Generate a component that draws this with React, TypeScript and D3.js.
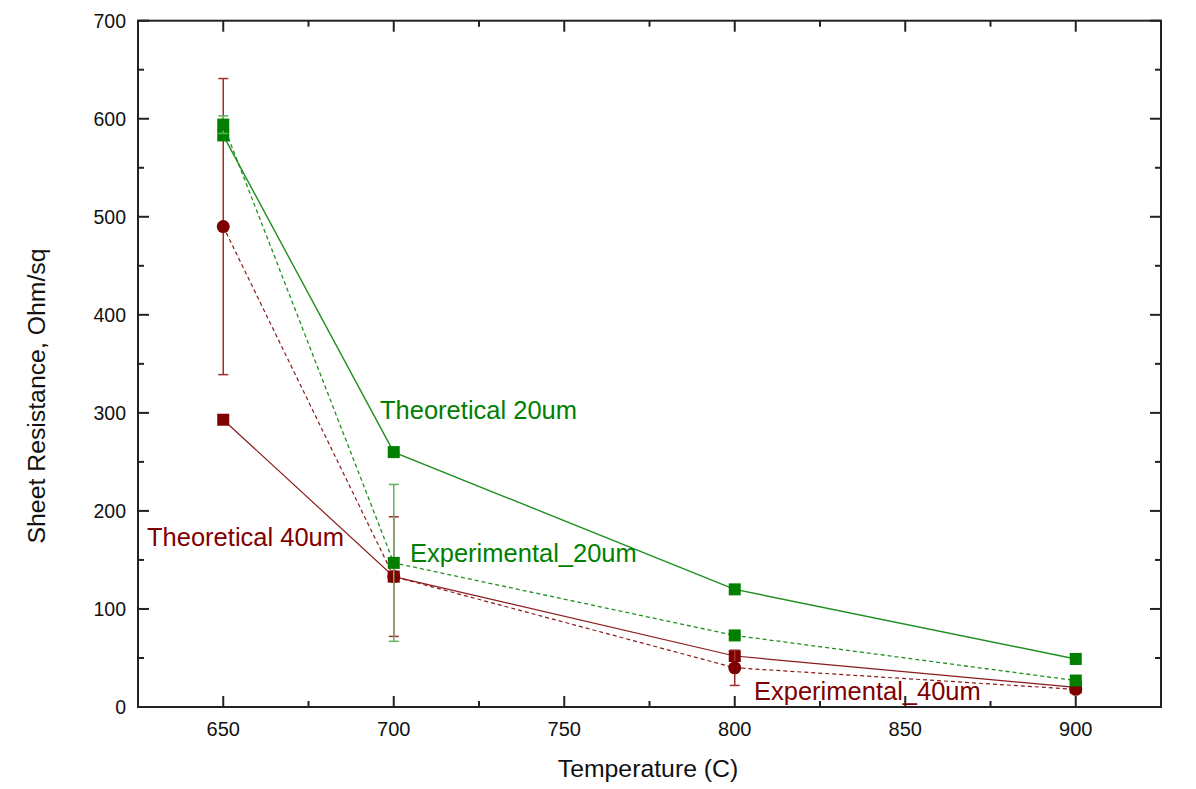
import React from "react";
import * as d3 from "d3";

const temperatures = [650, 700, 800, 900];

const theoretical20 = [583, 260, 120, 49];
const experimental20 = [594, 147, 73, 27];
const experimental20Err = [9, 80, 0, 0];

const theoretical40 = [293, 133, 52, 20];
const experimental40 = [490, 133, 40, 18];
const experimental40Err = [151, 61, 18, 0];

const xTicks = [650, 700, 750, 800, 850, 900];
const yTicks = [0, 100, 200, 300, 400, 500, 600, 700];

const W = 1196;
const H = 789;
const plot = { left: 138, right: 1161, top: 20.7, bottom: 707 };

const GREEN = "#007f00";
const GREEN_LINE = "#1f8f1f";
const GREEN_ERR = "#5fb35f";
const RED = "#7f0000";
const RED_LINE = "#8b1a1a";
const FONT = "Liberation Sans, Arial, sans-serif";

type Series = {
  name: string;
  values: number[];
  err?: number[];
  color: string;
  lineColor: string;
  errColor?: string;
  dashed: boolean;
  marker: "square" | "circle";
  lineWidth: number;
};

// red series first so the green ones sit on top where they overlap
const series: Series[] = [
  { name: "Theoretical 40um", values: theoretical40, color: RED, lineColor: RED_LINE, dashed: false, marker: "square", lineWidth: 1.2 },
  { name: "Experimental_40um", values: experimental40, err: experimental40Err, color: RED, lineColor: RED_LINE, errColor: "#9b3030", dashed: true, marker: "circle", lineWidth: 1.2 },
  { name: "Theoretical 20um", values: theoretical20, color: GREEN, lineColor: GREEN_LINE, dashed: false, marker: "square", lineWidth: 1.4 },
  { name: "Experimental_20um", values: experimental20, err: experimental20Err, color: GREEN, lineColor: GREEN_LINE, errColor: GREEN_ERR, dashed: true, marker: "square", lineWidth: 1.3 },
];

export default function App() {
  const x = d3.scaleLinear().domain([625, 925]).range([plot.left, plot.right]);
  const y = d3.scaleLinear().domain([0, 700]).range([plot.bottom, plot.top]);

  const line = d3
    .line<number>()
    .x((_, i) => x(temperatures[i]))
    .y((v) => y(v));

  const minorX = d3.range(625, 926, 25).filter((t) => t % 50 !== 0);
  const minorY = d3.range(50, 700, 100);

  const axisColor = "#222";
  const majorLen = 11;
  const minorLen = 6;
  const labelSize = 25.5;

  return (
    <svg
      width={W}
      height={H}
      style={{ position: "absolute", left: 0, top: 0, background: "#fff" }}
      fontFamily={FONT}
    >
      {/* connecting lines */}
      {series.map((s) => (
        <path
          key={s.name + "-line"}
          d={line(s.values) || ""}
          fill="none"
          stroke={s.lineColor}
          strokeWidth={s.lineWidth}
          strokeDasharray={s.dashed ? "4 3" : undefined}
        />
      ))}

      {/* error bars and markers, one series at a time */}
      {series.map((s) => (
        <g key={s.name + "-marks"}>
          {s.err
            ? s.values.map((v, i) => {
                const e = s.err![i];
                if (!e) return null;
                const cx = x(temperatures[i]);
                const y1 = y(v + e);
                const y2 = y(v - e);
                return (
                  <g key={"err-" + i} stroke={s.errColor} strokeWidth={1.5}>
                    <line x1={cx} x2={cx} y1={y1} y2={y2} />
                    <line x1={cx - 5} x2={cx + 5} y1={y1} y2={y1} />
                    <line x1={cx - 5} x2={cx + 5} y1={y2} y2={y2} />
                  </g>
                );
              })
            : null}
          {s.values.map((v, i) => {
            const cx = x(temperatures[i]);
            const cy = y(v);
            return s.marker === "square" ? (
              <rect key={"m-" + i} x={cx - 6} y={cy - 6} width={12} height={12} fill={s.color} />
            ) : (
              <circle key={"m-" + i} cx={cx} cy={cy} r={6.5} fill={s.color} />
            );
          })}
        </g>
      ))}

      {/* frame */}
      <rect
        x={plot.left}
        y={plot.top}
        width={plot.right - plot.left}
        height={plot.bottom - plot.top}
        fill="none"
        stroke={axisColor}
        strokeWidth={2}
      />

      {/* x ticks (bottom and top, inward) */}
      {xTicks.map((t) => (
        <g key={"xt" + t} stroke={axisColor} strokeWidth={2}>
          <line x1={x(t)} x2={x(t)} y1={plot.bottom} y2={plot.bottom - majorLen} />
          <line x1={x(t)} x2={x(t)} y1={plot.top} y2={plot.top + majorLen} />
        </g>
      ))}
      {minorX.map((t) => (
        <g key={"xm" + t} stroke={axisColor} strokeWidth={2}>
          <line x1={x(t)} x2={x(t)} y1={plot.bottom} y2={plot.bottom - minorLen} />
          <line x1={x(t)} x2={x(t)} y1={plot.top} y2={plot.top + minorLen} />
        </g>
      ))}

      {/* y ticks (left and right, inward) */}
      {yTicks.map((t) => (
        <g key={"yt" + t} stroke={axisColor} strokeWidth={2}>
          <line x1={plot.left} x2={plot.left + majorLen} y1={y(t)} y2={y(t)} />
          <line x1={plot.right} x2={plot.right - majorLen} y1={y(t)} y2={y(t)} />
        </g>
      ))}
      {minorY.map((t) => (
        <g key={"ym" + t} stroke={axisColor} strokeWidth={2}>
          <line x1={plot.left} x2={plot.left + minorLen} y1={y(t)} y2={y(t)} />
          <line x1={plot.right} x2={plot.right - minorLen} y1={y(t)} y2={y(t)} />
        </g>
      ))}

      {/* tick labels */}
      {xTicks.map((t) => (
        <text key={"xl" + t} x={x(t)} y={735.5} textAnchor="middle" fontSize={20} fill="#111">
          {t}
        </text>
      ))}
      {yTicks.map((t) => (
        <text key={"yl" + t} x={126} y={y(t) + 7} textAnchor="end" fontSize={19.5} fill="#111">
          {t}
        </text>
      ))}

      {/* axis titles */}
      <text x={648} y={777} textAnchor="middle" fontSize={24.8} fill="#111">
        Temperature (C)
      </text>
      <text
        transform="translate(45, 396) rotate(-90)"
        textAnchor="middle"
        fontSize={24.8}
        fill="#111"
      >
        Sheet Resistance, Ohm/sq
      </text>

      {/* series labels */}
      <text x={380} y={419} fontSize={labelSize} fill={GREEN}>Theoretical 20um</text>
      <text x={410} y={562} fontSize={labelSize} fill={GREEN}>Experimental_20um</text>
      <text x={147} y={546} fontSize={labelSize} fill={RED}>Theoretical 40um</text>
      <text x={754} y={700} fontSize={labelSize} fill={RED}>Experimental_40um</text>
    </svg>
  );
}
